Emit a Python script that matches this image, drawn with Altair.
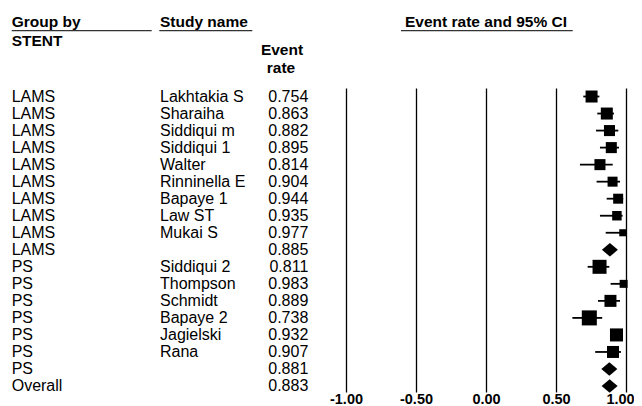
import altair as alt
import pandas as pd

# ---- data ----
groups = ["LAMS"] * 10 + ["PS"] * 7 + ["Overall"]
studies = ["Lakhtakia S", "Sharaiha", "Siddiqui m", "Siddiqui 1", "Walter",
           "Rinninella E", "Bapaye 1", "Law ST", "Mukai S", "",
           "Siddiqui 2", "Thompson", "Schmidt", "Bapaye 2", "Jagielski", "Rana",
           "", ""]
rates = [0.754, 0.863, 0.882, 0.895, 0.814, 0.904, 0.944, 0.935, 0.977, 0.885,
         0.811, 0.983, 0.889, 0.738, 0.932, 0.907, 0.881, 0.883]
lower = [0.695, 0.795, 0.786, 0.814, 0.671, 0.790, 0.862, 0.814, 0.855, 0.850,
         0.726, 0.890, 0.800, 0.617, 0.890, 0.780, 0.810, 0.850]
upper = [0.810, 0.914, 0.945, 0.950, 0.905, 0.957, 0.980, 0.976, 1.000, 0.930,
         0.881, 1.000, 0.957, 0.830, 0.960, 0.964, 0.940, 0.920]
# relative study weights (square area); None for pooled rows
weights = [7.2, 7.2, 6.1, 6.1, 6.1, 5.0, 5.0, 4.5, 2.5, None,
           9.8, 3.2, 7.2, 11.3, 8.5, 7.2, None, None]
kinds = ["study"] * 9 + ["summary"] + ["study"] * 6 + ["summary", "summary"]
ticks = [-1.0, -0.5, 0.0, 0.5, 1.0]

df = pd.DataFrame({
    "group": groups, "study": studies, "rate": rates,
    "lower": lower, "upper": upper, "weight": weights, "kind": kinds,
})
df["row"] = range(len(df))
df["rate_txt"] = [f"{r:.3f}" for r in rates]

FONT = "Liberation Sans"
W, H = 280, 304

xscale = alt.Scale(domain=[-1, 1], nice=False, zero=False)
yscale = alt.Scale(domain=[-0.5, -0.5 + H / 17.03], nice=False, zero=False, reverse=True)

base = alt.Chart(df)

grid_axis = alt.Axis(
    values=ticks, grid=True, gridColor="black", gridWidth=1.3, gridOpacity=1,
    domain=False, ticks=False, tickSize=0, labelFont=FONT, labelFontWeight="bold",
    labelFontSize=14.5, labelColor="black", labelPadding=0, labelFlush=False,
    labelOverlap=False, title=None,
    labelOffset={"condition": {"test": "datum.value == 1", "value": -6}, "value": 0},
    labelExpr="replace(format(datum.value, '.2f'), '\u2212', '-')",
)

ci = base.transform_filter("datum.kind == 'study'").mark_rule(
    color="black", strokeWidth=1.8
).encode(
    x=alt.X("lower:Q", scale=xscale, axis=grid_axis),
    x2="upper:Q",
    y=alt.Y("row:Q", scale=yscale, axis=None),
)

squares = base.transform_filter("datum.kind == 'study'").mark_square(
    color="black", opacity=1, filled=True
).encode(
    x=alt.X("rate:Q", scale=xscale),
    y=alt.Y("row:Q", scale=yscale),
    size=alt.Size("weight:Q", scale=alt.Scale(domain=[0, 10], range=[0, 200]), legend=None),
)

diamonds = base.transform_filter("datum.kind == 'summary'").mark_point(
    shape="M-1,0L0,-0.85L1,0L0,0.85Z", filled=True, color="black", opacity=1, size=256
).encode(
    x=alt.X("rate:Q", scale=xscale),
    y=alt.Y("row:Q", scale=yscale),
)

col_group = base.mark_text(align="left", baseline="middle", font=FONT, fontSize=16,
                           color="black").encode(
    x=alt.value(-334.3), y=alt.Y("row:Q", scale=yscale), text="group:N")
col_study = base.mark_text(align="left", baseline="middle", font=FONT, fontSize=16,
                           color="black").encode(
    x=alt.value(-186), y=alt.Y("row:Q", scale=yscale), text="study:N")
col_rate = base.mark_text(align="right", baseline="middle", font=FONT, fontSize=16,
                          color="black").encode(
    x=alt.value(-37.7), y=alt.Y("row:Q", scale=yscale), text="rate_txt:N")


def label(txt, x, y, align="left"):
    return alt.Chart(pd.DataFrame({"t": [txt]})).mark_text(
        align=align, baseline="alphabetic", font=FONT, fontSize=15.5,
        fontWeight="bold", color="black"
    ).encode(x=alt.value(x), y=alt.value(y), text="t:N")


def underline(x1, x2, y):
    return alt.Chart(pd.DataFrame({"a": [0]})).mark_rule(
        color="#333333", strokeWidth=1.2
    ).encode(x=alt.value(x1), x2=alt.value(x2), y=alt.value(y))


headers = [
    label("Group by", -334.3, -61.5),
    label("Study name", -186, -61.5),
    label("STENT", -334.3, -42.3),
    label("Event", -64, -33, align="center"),
    label("rate", -65, -15.3, align="center"),
    label("Event rate and 95% CI", 140, -61.5, align="center"),
    underline(-334.3, -194.3, -57.3),
    underline(-186.7, -93.7, -57.3),
    underline(55, 226.7, -57.3),
]

chart = alt.layer(
    ci, squares, diamonds, col_group, col_study, col_rate, *headers
).properties(
    width=W, height=H,
    autosize=alt.AutoSizeParams(type="none"),
    padding={"left": 338, "top": 80, "right": 8, "bottom": 20},
).configure_view(stroke=None)

chart.save("out.html", embed_options={"renderer": "svg", "actions": False})
